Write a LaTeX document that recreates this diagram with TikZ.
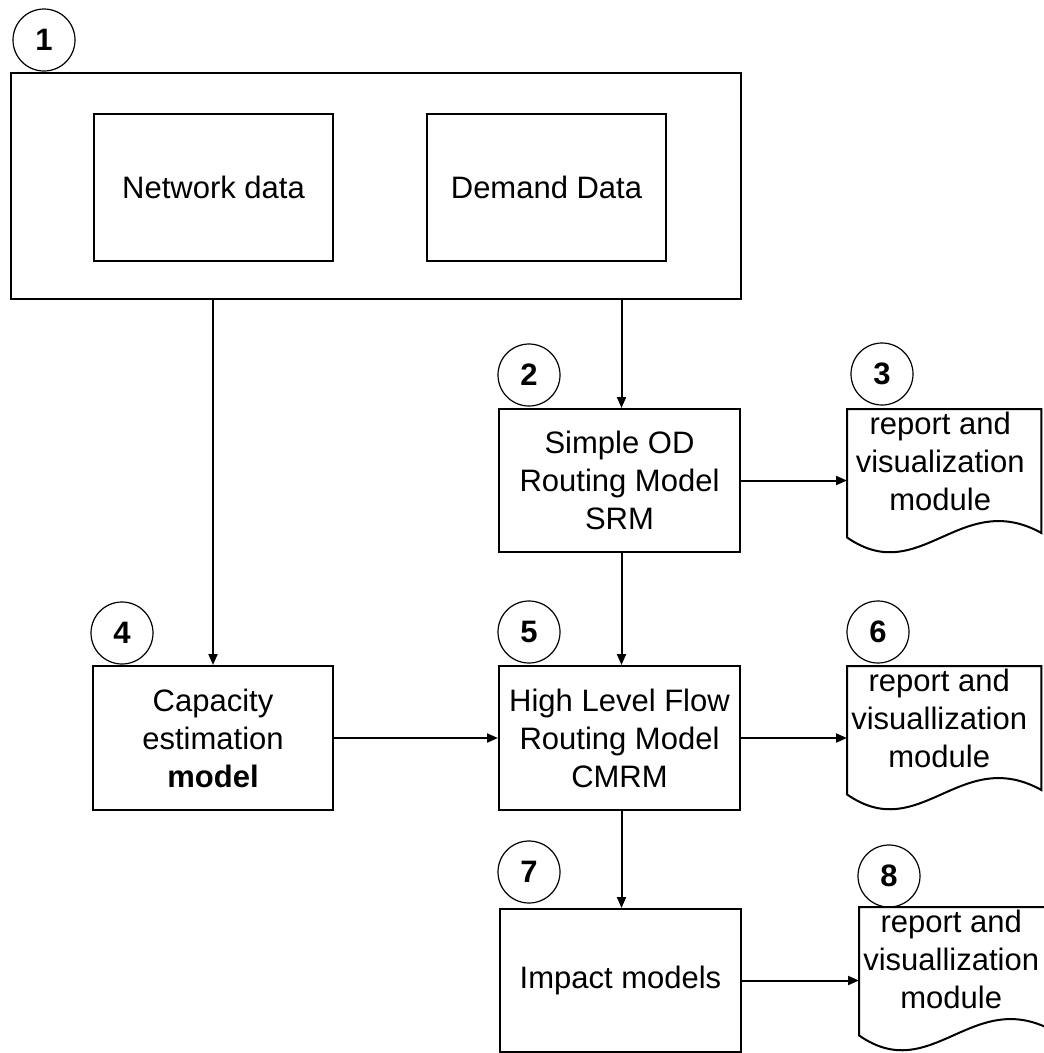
\documentclass[tikz,border=0pt]{standalone}
\usepackage{fontspec}
\setmainfont{Liberation Sans}
\usetikzlibrary{arrows.meta,calc}
\begin{document}
\begin{tikzpicture}[x=1pt,y=-1pt,
  box/.style={draw, line width=2pt, rectangle, anchor=north west, inner sep=0pt, align=center, font=\fontsize{31}{38}\selectfont},
  docbox/.style={rectangle, anchor=north west, inner sep=0pt, minimum width=194pt, minimum height=128pt},
  doctext/.style={align=center, font=\fontsize{31}{38}\selectfont, inner sep=0pt},
  num/.style={draw, circle, line width=1.2pt, minimum size=62pt, inner sep=0pt, font=\fontsize{31}{31}\selectfont\bfseries},
  arr/.style={line width=2pt, -{Triangle[length=11pt,width=9pt]}},
  docline/.style={line width=2pt}
]
\useasboundingbox (0,0) rectangle (1044,1053);

% boxes
\node[box, minimum width=730pt, minimum height=226pt] (outer) at (10,72) {};
\node[box, minimum width=239pt, minimum height=147pt] (net) at (93,113) {Network data};
\node[box, minimum width=239pt, minimum height=147pt] (dem) at (426,113) {Demand Data};
\node[box, minimum width=241pt, minimum height=143pt] (srm) at (498,408) {Simple OD\\Routing Model\\SRM};
\node[box, minimum width=240pt, minimum height=144pt] (cap) at (92,665) {Capacity\\estimation\\\textbf{model}};
\node[box, minimum width=241pt, minimum height=144pt] (cmrm) at (498,665) {High Level Flow\\Routing Model\\CMRM};
\node[box, minimum width=241pt, minimum height=143pt] (imp) at (499,908) {Impact models};

% documents
\node[docbox] (doc3) at (847,409) {};
\node[docbox] (doc6) at (847,666) {};
\node[docbox] (doc8) at (859,907) {};
\foreach \d in {doc3,doc6,doc8}{
  \draw[docline] (\d.north west) -- (\d.north east) -- ($(\d.north east)+(0,124)$)
    .. controls +(-81,-45) and +(73,51) .. (\d.south west) -- cycle;
}
\node[doctext] (doc3t) at ($(doc3.center)+(-4,-12)$) {report and\\visualization\\module};
\node[doctext] (doc6t) at ($(doc6.center)+(-5,-12)$) {report and\\visuallization\\module};
\node[doctext] (doc8t) at ($(doc8.center)+(-5,-12)$) {report and\\visuallization\\module};

% numbered circles
\node[num] (n1) at (44,40) {1};
\node[num] (n2) at (529,375) {2};
\node[num] (n3) at (882,374) {3};
\node[num] (n4) at (122,633) {4};
\node[num] (n5) at (529,632) {5};
\node[num] (n6) at (878,632) {6};
\node[num] (n7) at (529,872) {7};
\node[num] (n8) at (889,876) {8};

% connectors
\draw[arr] (outer.south -| cap.north) -- (cap.north);
\draw[arr] ($(outer.south -| srm.north)+(2,0)$) -- ($(srm.north)+(2,0)$);
\draw[arr] ($(srm.south)+(2,0)$) -- ($(cmrm.north)+(2,0)$);
\draw[arr] (srm.east) -- (srm.east -| doc3.west);
\draw[arr] (cap.east) -- (cmrm.west);
\draw[arr] (cmrm.east) -- (cmrm.east -| doc6.west);
\draw[arr] ($(cmrm.south)+(2,0)$) -- ($(imp.north)+(1,0)$);
\draw[arr] (imp.east) -- (imp.east -| doc8.west);
\end{tikzpicture}
\end{document}
